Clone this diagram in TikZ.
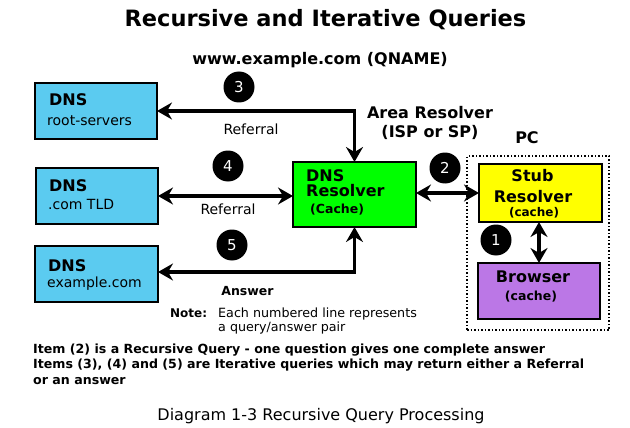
\documentclass[tikz,border=0pt]{standalone}
\usepackage{fontspec}
\setmainfont{DejaVu Sans}
\usetikzlibrary{arrows.meta}
\definecolor{dnsblue}{HTML}{5BCBF0}
\definecolor{resgreen}{HTML}{00FF00}
\definecolor{stubyellow}{HTML}{FFFF00}
\definecolor{brpurple}{HTML}{BB77E6}
\newcommand\myfb[1]{\fontsize{#1}{#1}\selectfont\bfseries}
\newcommand\myfr[1]{\fontsize{#1}{#1}\selectfont}
\begin{document}
\begin{tikzpicture}[x=1pt,y=-1pt,
  box/.style={draw=black, line width=2pt, inner sep=0pt, outer sep=0pt},
  num/.style={circle, fill=black, text=white, minimum size=31pt, inner sep=0pt, font=\myfr{15}},
  dblarr/.style={line width=3.8pt, {Stealth[length=15pt,width=17pt,inset=5pt]}-{Stealth[length=15pt,width=17pt,inset=5pt]}},
  lbl/.style={inner sep=0pt, anchor=base west},
  lblc/.style={inner sep=0pt, anchor=base}]
\useasboundingbox (0,0) rectangle (630,428);
% title
\node[lblc, font=\myfb{22.5}] (title) at (325.5,27) {Recursive and Iterative Queries};
\node[lblc, font=\myfb{16}] (qname) at (320,65) {www.example.com (QNAME)};
% boxes
\node[box, fill=dnsblue, minimum width=122pt, minimum height=56pt] (root) at (96,111) {};
\node[box, fill=dnsblue, minimum width=122pt, minimum height=56pt] (com) at (97,196) {};
\node[box, fill=dnsblue, minimum width=123pt, minimum height=56pt] (ex) at (96.5,274) {};
\node[box, fill=resgreen, minimum width=123pt, minimum height=65pt] (res) at (354.5,194.5) {};
\node[box, fill=stubyellow, minimum width=123pt, minimum height=58pt] (stub) at (540.5,193) {};
\node[box, fill=brpurple, minimum width=122pt, minimum height=56pt] (br) at (539,291) {};
% PC dotted
\node[draw=black, line width=1.5pt, dotted, minimum width=142pt, minimum height=174pt, inner sep=0pt] (pc) at (538,243) {};
% box texts
\node[lbl, font=\myfb{16}] (rootA) at (49,106) {DNS};
\node[lbl, font=\myfr{14}] (rootB) at (47,125) {root-servers};
\node[lbl, font=\myfb{16}] (comA) at (49,191) {DNS};
\node[lbl, font=\myfr{14}] (comB) at (48,209) {.com TLD};
\node[lbl, font=\myfb{16}] (exA) at (48,271) {DNS};
\node[lbl, font=\myfr{14}] (exB) at (47,287.5) {example.com};
\node[lbl, font=\myfb{16}] (resA) at (306,181) {DNS};
\node[lbl, font=\myfb{16}] (resB) at (306,196) {Resolver};
\node[lbl, font=\myfb{12.5}] (resC) at (310,213) {(Cache)};
\node[lblc, font=\myfb{16}] (stubA) at (532.5,182) {Stub};
\node[lblc, font=\myfb{16}] (stubB) at (533,202) {Resolver};
\node[lblc, font=\myfb{12}] (stubC) at (534,216.5) {(cache)};
\node[lblc, font=\myfb{16}] (brA) at (533,282) {Browser};
\node[lblc, font=\myfb{12.5}] (brB) at (531,300) {(cache)};
% other labels
\node[lblc, font=\myfb{16}] (area1) at (430,118) {Area Resolver};
\node[lblc, font=\myfb{16}] (area2) at (430,138) {(ISP or SP)};
\node[lblc, font=\myfb{16}] (pclbl) at (527,143) {PC};
\node[lblc, font=\myfr{14}] (ref1) at (251,135) {Referral};
\node[lblc, font=\myfr{14}] (ref2) at (228,214) {Referral};
\node[lblc, font=\myfb{12.5}] (ans) at (247.5,295) {Answer};
\node[lbl, font=\myfb{12}] (note) at (170,317) {Note:};
\node[lbl, font=\myfr{12.7}] (noteA) at (218,317) {Each numbered line represents};
\node[lbl, font=\myfr{12.7}] (noteB) at (218,331) {a query/answer pair};
\node[lbl, font=\myfb{12.6}] (itemA) at (33,353) {Item (2) is a Recursive Query - one question gives one complete answer};
\node[lbl, font=\myfb{12.6}] (itemB) at (33,368.5) {Items (3), (4) and (5) are Iterative queries which may return either a Referral};
\node[lbl, font=\myfb{12.6}] (itemC) at (33,384) {or an answer};
\node[lblc, font=\myfr{16}] (cap) at (321,420) {Diagram 1-3 Recursive Query Processing};
% numbers
\node[num] (n3) at (239,87) {3};
\node[num] (n4) at (228,166) {4};
\node[num] (n5) at (232,245) {5};
\node[num] (n2) at (445,168) {2};
\node[num] (n1) at (496,240) {1};
% arrows
\draw[dblarr] (root.east) -| (res.north);
\draw[dblarr] (com.east) -- (com.east -| res.west);
\draw[dblarr] (ex.east |- 0,272) -| (res.south);
\draw[dblarr] (res.east |- 0,193) -- (stub.west |- 0,193);
\draw[dblarr] (539,222) coordinate (s1) -- (539,263) coordinate (b1);
\end{tikzpicture}
\end{document}
